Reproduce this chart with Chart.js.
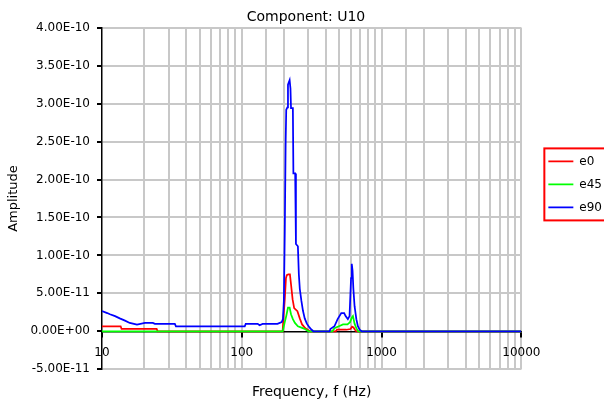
<!DOCTYPE html>
<html>
<head>
<meta charset="utf-8">
<script src="https://cdn.jsdelivr.net/npm/chart.js@4"></script>
<style>
  html, body { margin: 0; padding: 0; background: #fff; }
</style>
</head>
<body>
<canvas id="grafico" width="604" height="413"></canvas>
<script>
// DATOS
const frecuenciaE0 = [10, 13.6, 13.8, 24.6, 25, 196, 199, 203, 207, 210, 215, 221, 225, 231, 237, 250, 260, 270, 285, 300, 310, 470, 480, 560, 600, 615, 630, 645, 660, 10000];
const amplitudE0 = [6.5e-12, 6.5e-12, 3e-12, 3e-12, 0, 0, 2e-11, 4.2e-11, 7e-11, 7.4e-11, 7.5e-11, 7.5e-11, 6.2e-11, 4.2e-11, 3.05e-11, 2.65e-11, 1.7e-11, 9e-12, 4e-12, 1.3e-12, 0, 0, 2e-12, 2e-12, 3e-12, 6e-12, 5e-12, 2e-12, 0, 0];

const frecuenciaE45 = [10, 196, 199, 203, 208, 214, 220, 225, 232, 240, 252, 270, 285, 300, 445, 460, 500, 530, 570, 595, 612, 624, 641, 660, 680, 10000];
const amplitudE45 = [0, 0, 5e-12, 1.2e-11, 2e-11, 3.1e-11, 3.1e-11, 2.25e-11, 1.6e-11, 1.1e-11, 6.6e-12, 4.4e-12, 2.6e-12, 0, 0, 4e-12, 7e-12, 9e-12, 9e-12, 1.2e-11, 1.8e-11, 2e-11, 1e-11, 4e-12, 0, 0];

const frecuenciaE90 = [10, 10.9, 11.4, 12.4, 13.4, 14.6, 15.8, 17.8, 20.3, 23.1, 23.9, 33.2, 33.8, 105, 106.7, 130, 134, 141, 180, 193, 197, 200, 203, 206, 208, 212, 214, 217, 220, 223, 225, 232, 234, 241, 244, 252, 256, 260, 267, 274, 282, 292, 305, 316, 325, 425, 430, 460, 485, 515, 540, 553, 574, 590, 605, 612, 620, 628, 641, 660, 677, 697, 720, 10000];
const amplitudE90 = [2.65e-11, 2.4e-11, 2.25e-11, 2.0e-11, 1.7e-11, 1.4e-11, 1.1e-11, 8.9e-12, 1.1e-11, 1.1e-11, 9.7e-12, 9.7e-12, 6.6e-12, 6.6e-12, 9.7e-12, 9.7e-12, 8e-12, 9.7e-12, 9.7e-12, 1.2e-11, 1.6e-11, 4e-11, 1.3e-10, 2.5e-10, 2.92e-10, 2.95e-10, 3.25e-10, 3.28e-10, 3.31e-10, 3.2e-10, 2.94e-10, 2.94e-10, 2.08e-10, 2.08e-10, 1.15e-10, 1.12e-10, 7.5e-11, 5.6e-11, 4e-11, 2.7e-11, 1.7e-11, 1e-11, 5e-12, 2e-12, 0, 0, 3e-12, 6.6e-12, 1.6e-11, 2.4e-11, 2.4e-11, 2e-11, 1.6e-11, 2e-11, 7e-11, 8.9e-11, 8e-11, 5.7e-11, 3.3e-11, 1.6e-11, 6.6e-12, 2e-12, 0, 0];

const series = ['e0', 'e45', 'e90'];
const colores = ['#ff0000', '#00ff00', '#0000ff'];

const rejilla = '#c8c8c8';
const transparente = 'rgba(0,0,0,0)';

Chart.defaults.font.family = 'DejaVu Sans';
Chart.defaults.color = '#000';

function puntos(frecuencias, amplitudes) {
    return frecuencias.map((f, i) => ({ x: f, y: amplitudes[i] }));
}

function esDecada(v) {
    const l = Math.log10(v);
    return Math.abs(l - Math.round(l)) < 1e-9;
}

// formato tipo Excel: 4.00E-10, 0.00E+00
function formatoE(v) {
    const partes = Number(v).toExponential(2).split('e');
    const signo = partes[1][0] === '-' ? '-' : '+';
    const digitos = partes[1].replace(/^[+-]/, '').padStart(2, '0');
    return partes[0] + 'E' + signo + digitos;
}

// marco rojo alrededor de la leyenda
const marcoLeyenda = {
    id: 'marcoLeyenda',
    afterDraw(chart) {
        const cajas = chart.legend && chart.legend.legendHitBoxes;
        if (!cajas || !cajas.length) return;
        const ctx = chart.ctx;
        const x = cajas[0].left - 4;
        const arriba = cajas[0].top - 7;
        const ultima = cajas[cajas.length - 1];
        const abajo = ultima.top + ultima.height + 7;
        ctx.save();
        ctx.strokeStyle = '#ff0000';
        ctx.lineWidth = 2;
        ctx.strokeRect(x, arriba, chart.width - x + 5, abajo - arriba);
        ctx.restore();
    }
};

const datos = [puntos(frecuenciaE0, amplitudE0), puntos(frecuenciaE45, amplitudE45), puntos(frecuenciaE90, amplitudE90)];

new Chart(document.getElementById('grafico'), {
    type: 'line',
    data: {
        datasets: series.map((nombre, i) => ({
            label: nombre,
            data: datos[i],
            borderColor: colores[i],
            backgroundColor: colores[i],
            borderWidth: 1.75,
            pointRadius: 0,
            tension: 0,
            order: 3 - i
        }))
    },
    options: {
        responsive: false,
        animation: false,
        layout: { padding: { right: -8 } },
        plugins: {
            title: {
                display: true,
                text: 'Component: U10',
                color: '#000',
                font: { size: 14, weight: 'normal' },
                padding: { top: 9, bottom: 2 }
            },
            legend: {
                position: 'right',
                align: 'start',
                title: { display: true, text: '', padding: { top: 130, bottom: 0 } },
                labels: {
                    usePointStyle: true,
                    pointStyle: 'line',
                    pointStyleWidth: 25,
                    boxHeight: 12,
                    padding: 11,
                    color: '#000',
                    font: { size: 12 },
                    sort: (a, b) => a.datasetIndex - b.datasetIndex
                }
            },
            tooltip: { enabled: false }
        },
        scales: {
            x: {
                type: 'logarithmic',
                min: 10,
                max: 10000,
                position: { y: 0 },
                grid: {
                    color: ctx => (ctx.tick && ctx.tick.value === 10) ? transparente : rejilla,
                    lineWidth: 2,
                    tickLength: 5,
                    tickColor: ctx => (ctx.tick && esDecada(ctx.tick.value)) ? '#000' : transparente
                },
                border: { color: '#000', width: 1.5 },
                ticks: {
                    autoSkip: false,
                    maxRotation: 0,
                    padding: 9,
                    color: '#000',
                    font: { size: 12 },
                    callback: v => esDecada(v) ? String(Math.round(v)) : ''
                }
            },
            x2: {
                type: 'logarithmic',
                min: 10,
                max: 10000,
                position: 'bottom',
                grid: { display: false },
                border: { display: false },
                ticks: { display: false },
                title: {
                    display: true,
                    text: 'Frequency, f (Hz)',
                    color: '#000',
                    font: { size: 14 },
                    padding: { top: 7, bottom: 12 }
                }
            },
            y: {
                min: -5e-11,
                max: 4e-10,
                afterFit: s => { s.width = 102; },
                ticks: {
                    stepSize: 5e-11,
                    padding: 7,
                    color: '#000',
                    font: { size: 12 },
                    callback: v => formatoE(v)
                },
                grid: {
                    color: ctx => (ctx.tick && ctx.tick.value === 0) ? transparente : rejilla,
                    lineWidth: 2,
                    tickLength: 5,
                    tickColor: '#000'
                },
                border: { color: '#000', width: 1.5 },
                title: {
                    display: true,
                    text: 'Amplitude',
                    color: '#000',
                    font: { size: 13 },
                    padding: { top: 6, bottom: 6 }
                }
            },
            hueco: {
                position: 'right',
                display: true,
                grid: { display: false },
                border: { display: false },
                ticks: { display: false },
                afterFit: s => { s.width = 16; }
            }
        }
    },
    plugins: [marcoLeyenda]
});
</script>
</body>
</html>
